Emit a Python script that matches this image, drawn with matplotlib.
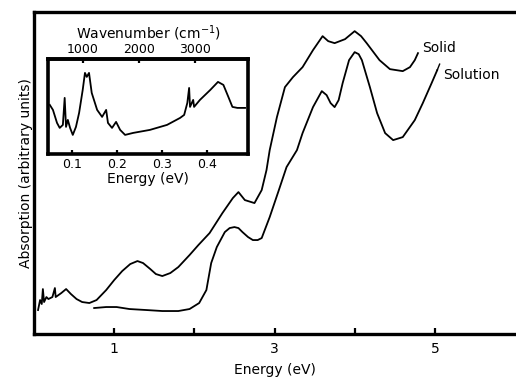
import matplotlib.pyplot as plt

# main spectra: energy (eV) vs absorption (arbitrary units)
solid_e = [0.05, 0.075, 0.096, 0.11, 0.125, 0.154, 0.179, 0.204, 0.229, 0.26, 0.27,
           0.34, 0.40, 0.46, 0.53, 0.60, 0.69, 0.78, 0.90, 1.0, 1.10, 1.20, 1.29,
           1.36, 1.45, 1.52, 1.60, 1.70, 1.80, 1.94, 2.05, 2.19, 2.35, 2.48, 2.55,
           2.63, 2.75, 2.84, 2.90, 2.94, 3.03, 3.13, 3.23, 3.35, 3.48, 3.60, 3.67,
           3.75, 3.88, 4.00, 4.08, 4.15, 4.31, 4.44, 4.60, 4.69, 4.75, 4.79]
solid_a = [24, 34, 30, 45, 32, 37, 35, 36, 37, 46, 37,
           41, 45, 40, 35, 32, 31, 34, 44, 54, 63, 70, 73,
           71, 65, 60, 58, 61, 67, 79, 89, 101, 121, 136, 142,
           134, 131, 144, 164, 184, 217, 247, 257, 267, 284, 298, 293,
           291, 295, 303, 298, 291, 274, 265, 263, 267, 274, 281]

solution_e = [0.75, 0.9, 1.03, 1.19, 1.40, 1.60, 1.80, 1.94, 2.06, 2.15, 2.21, 2.28,
              2.38, 2.44, 2.50, 2.55, 2.60, 2.67, 2.73, 2.79, 2.84, 2.94, 3.05,
              3.15, 3.28, 3.35, 3.48, 3.59, 3.65, 3.70, 3.75, 3.80, 3.85, 3.93,
              4.00, 4.05, 4.09, 4.19, 4.28, 4.38, 4.48, 4.60, 4.75, 4.85, 4.96,
              5.03]
solution_a = [26, 27, 27, 25, 24, 23, 23, 25, 31, 44, 71, 87,
              102, 106, 107, 106, 102, 97, 94, 94, 96, 117, 143,
              167, 184, 201, 227, 243, 239, 231, 227, 234, 251, 274,
              282, 280, 274, 247, 221, 201, 194, 197, 214, 231, 251,
              264]

# inset: low-energy (vibrational) region
ir_e = [0.051, 0.058, 0.067, 0.073, 0.080, 0.084, 0.087, 0.091, 0.096, 0.102,
        0.109, 0.116, 0.124, 0.129, 0.133, 0.138, 0.144, 0.156, 0.167, 0.176,
        0.180, 0.189, 0.198, 0.207, 0.218, 0.236, 0.273, 0.311, 0.340, 0.349,
        0.356, 0.360, 0.362, 0.369, 0.371, 0.384, 0.407, 0.424, 0.436, 0.447,
        0.456, 0.467, 0.484]
ir_a = [49, 44, 31, 26, 29, 56, 27, 34, 26, 19,
        27, 41, 64, 81, 77, 81, 61, 44, 37, 44,
        31, 26, 32, 24, 19, 21, 24, 29, 36, 39,
        51, 66, 47, 54, 47, 54, 64, 72, 69, 57,
        47, 46, 46]

main_ticks = [1, 2, 3, 4, 5]
main_labels = ['1', '', '3', '', '5']
inset_ticks = [0.1, 0.2, 0.3, 0.4]
inset_labels = ['0.1', '0.2', '0.3', '0.4']
wavenumbers = [1000, 2000, 3000]

plt.rcParams['font.family'] = 'DejaVu Sans'
plt.rcParams['font.size'] = 10

fig = plt.figure(figsize=(5.16, 3.8), dpi=100)
ax = fig.add_axes([0.066, 0.121, 0.932, 0.847])

ax.plot(solid_e, solid_a, color='black', lw=1.3)
ax.plot(solution_e, solution_a, color='black', lw=1.3)
ax.plot([5.03, 5.06], [264, 270], color='black', lw=1.0)

ax.set_xlim(0, 6)
ax.set_ylim(0, 322)
ax.set_xticks(main_ticks)
ax.set_xticklabels(main_labels)
ax.set_yticks([])
ax.tick_params(axis='x', direction='in', length=4, width=1.6, pad=6, labelsize=10)
ax.spines['right'].set_visible(False)
for s in ['left', 'bottom', 'top']:
    ax.spines[s].set_linewidth(2.4)
ax.set_xlabel('Energy (eV)', labelpad=5)
ax.set_ylabel('Absorption (arbitrary units)', labelpad=1)

ax.text(4.84, 286, 'Solid', fontsize=10, va='center', ha='left')
ax.text(5.10, 259, 'Solution', fontsize=10, va='center', ha='left')

# inset with wavenumber scale on top
ins = fig.add_axes([0.093, 0.595, 0.388, 0.25])
ins.plot(ir_e, ir_a, color='black', lw=1.3)
ins.set_xlim(0.047, 0.491)
ins.set_ylim(0, 95)
ins.set_yticks([])
ins.set_xticks(inset_ticks)
ins.set_xticklabels(inset_labels)
ins.tick_params(axis='x', direction='in', length=3, width=1.6, pad=3, labelsize=9)
for s in ins.spines.values():
    s.set_linewidth(2.6)
ins.set_xlabel('Energy (eV)', fontsize=10, labelpad=1)

top = ins.secondary_xaxis('top', functions=(lambda e: e * 8065.5, lambda k: k / 8065.5))
top.set_xticks(wavenumbers)
top.tick_params(axis='x', direction='in', length=3, width=1.6, pad=2, labelsize=9)
top.spines['top'].set_linewidth(2.6)
top.set_xlabel('Wavenumber (cm$^{-1}$)', fontsize=10, labelpad=3)

fig.savefig('out.png', dpi=100)
